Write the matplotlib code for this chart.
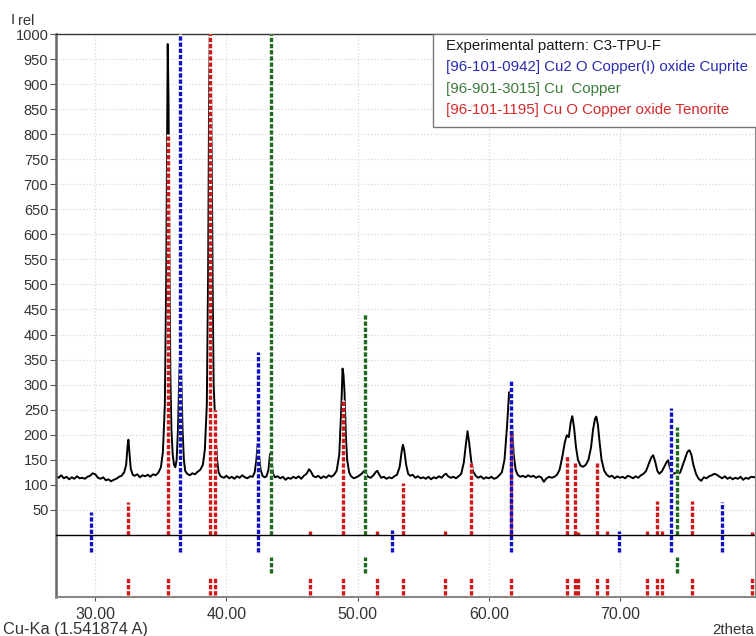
import matplotlib
matplotlib.use("Agg")
import matplotlib.pyplot as plt
from matplotlib.patches import Rectangle

plt.rcParams["font.family"] = ["Liberation Sans", "DejaVu Sans"]

# experimental pattern C3-TPU-F (2theta, counts)
exp_2theta = [
    27.0, 27.2, 27.4, 27.6, 27.8, 28.0, 28.2, 28.4, 28.6, 28.8, 29.0, 29.2, 29.4, 29.6, 29.8,
    30.0, 30.2, 30.4, 30.6, 30.8, 31.0, 31.2, 31.4, 31.6, 31.8, 32.0, 32.2, 32.35, 32.45, 32.52,
    32.6, 32.7, 32.85, 33.0, 33.2, 33.4, 33.6, 33.8, 34.0, 34.2, 34.4, 34.6, 34.8, 35.0, 35.15,
    35.3, 35.4, 35.47, 35.52, 35.58, 35.65, 35.72, 35.8, 35.9, 36.0, 36.1, 36.2, 36.3, 36.4, 36.48,
    36.56, 36.65, 36.75, 36.85, 37.0, 37.2, 37.4, 37.6, 37.8, 38.0, 38.2, 38.35, 38.5, 38.6, 38.68,
    38.73, 38.8, 38.88, 38.95, 39.02, 39.1, 39.18, 39.28, 39.4, 39.55, 39.8, 40.0, 40.2, 40.4, 40.6,
    40.8, 41.0, 41.2, 41.4, 41.6, 41.8, 42.0, 42.15, 42.28, 42.38, 42.48, 42.6, 42.75, 42.9, 43.05,
    43.2, 43.32, 43.42, 43.55, 43.7, 43.9, 44.1, 44.3, 44.5, 44.7, 44.9, 45.1, 45.3, 45.5, 45.7,
    45.9, 46.1, 46.3, 46.45, 46.6, 46.8, 47.0, 47.2, 47.4, 47.6, 47.8, 48.0, 48.2, 48.4, 48.6,
    48.75, 48.85, 48.92, 49.0, 49.1, 49.2, 49.35, 49.5, 49.7, 49.9, 50.1, 50.3, 50.5, 50.65, 50.8,
    51.0, 51.2, 51.4, 51.5, 51.65, 51.8, 52.0, 52.2, 52.4, 52.6, 52.8, 53.0, 53.2, 53.35, 53.45,
    53.55, 53.7, 53.85, 54.0, 54.2, 54.4, 54.6, 54.8, 55.0, 55.2, 55.4, 55.6, 55.8, 56.0, 56.2,
    56.4, 56.6, 56.75, 56.9, 57.1, 57.3, 57.5, 57.7, 57.9, 58.1, 58.25, 58.38, 58.5, 58.65, 58.8,
    59.0, 59.2, 59.4, 59.6, 59.8, 60.0, 60.2, 60.4, 60.6, 60.8, 61.0, 61.2, 61.4, 61.55, 61.65,
    61.78, 61.9, 62.05, 62.2, 62.4, 62.6, 62.8, 63.0, 63.2, 63.4, 63.6, 63.8, 64.0, 64.2, 64.4,
    64.6, 64.8, 65.0, 65.2, 65.4, 65.6, 65.8, 65.95, 66.1, 66.25, 66.37, 66.5, 66.65, 66.8, 67.0,
    67.2, 67.4, 67.6, 67.8, 67.95, 68.1, 68.2, 68.32, 68.45, 68.6, 68.8, 69.0, 69.2, 69.4, 69.6,
    69.8, 70.0, 70.2, 70.4, 70.6, 70.8, 71.0, 71.2, 71.4, 71.6, 71.8, 72.0, 72.2, 72.4, 72.54,
    72.7, 72.85, 73.0, 73.2, 73.4, 73.55, 73.68, 73.8, 73.95, 74.1, 74.25, 74.4, 74.6, 74.8, 75.0,
    75.15, 75.3, 75.45, 75.6, 75.8, 76.0, 76.2, 76.4, 76.6, 76.8, 77.0, 77.2, 77.4, 77.6, 77.8,
    78.0, 78.2, 78.4, 78.6, 78.8, 79.0, 79.2, 79.4, 79.6, 79.8, 80.0, 80.3,
]
exp_counts = [
    118, 114, 119, 113, 116, 111, 115, 112, 117, 113, 114, 112, 116, 118, 123,
    121, 114, 112, 115, 109, 111, 107, 110, 112, 116, 118, 125, 140, 175, 190,
    165, 132, 120, 118, 121, 115, 119, 117, 120, 116, 121, 119, 124, 135, 165,
    260, 500, 800, 980, 870, 560, 320, 210, 160, 140, 135, 150, 210, 320, 365,
    310, 210, 150, 128, 122, 119, 123, 121, 126, 130, 140, 170, 260, 520, 900,
    1010, 950, 740, 480, 300, 250, 200, 150, 125, 117, 114, 118, 113, 116, 112,
    117, 114, 119, 115, 113, 117, 116, 125, 150, 183, 160, 130, 118, 115, 117,
    130, 162, 150, 122, 115, 117, 113, 116, 110, 114, 112, 116, 113, 117, 112,
    118, 122, 131, 126, 118, 115, 118, 113, 117, 114, 119, 116, 120, 128, 160,
    250, 332, 320, 285, 200, 150, 125, 117, 113, 115, 118, 122, 128, 122, 116,
    114, 119, 126, 128, 120, 114, 116, 112, 115, 113, 117, 120, 135, 165, 180,
    170, 140, 122, 118, 120, 114, 117, 113, 115, 112, 116, 111, 115, 113, 117,
    114, 120, 122, 117, 114, 116, 113, 117, 122, 145, 180, 207, 185, 150, 127,
    118, 114, 117, 112, 115, 113, 116, 112, 114, 119, 125, 150, 220, 285, 280,
    220, 160, 130, 120, 116, 118, 115, 119, 116, 118, 114, 117, 115, 106, 113,
    116, 114, 116, 120, 130, 155, 185, 199, 195, 225, 237, 215, 175, 150, 138,
    136, 140, 150, 175, 210, 232, 236, 220, 185, 150, 128, 120, 116, 118, 113,
    117, 114, 116, 113, 118, 116, 113, 117, 114, 119, 122, 128, 142, 155, 159,
    145, 128, 122, 127, 137, 145, 149, 135, 125, 122, 124, 120, 125, 140, 155,
    166, 169, 160, 140, 122, 112, 108, 115, 113, 117, 119, 122, 120, 116, 113,
    117, 112, 115, 111, 114, 112, 116, 110, 114, 112, 116, 115,
]

# reference patterns (stick positions and relative intensities)
cuprite_pos = [29.64, 36.49, 42.39, 52.65, 61.68, 69.92, 73.89, 77.81]
cuprite_int = [46, 1000, 366, 10, 310, 7, 254, 65]

copper_pos = [43.36, 50.53, 74.33]
copper_int = [1000, 442, 216]

tenorite_pos = [32.52, 35.55, 38.73, 39.14, 46.35, 48.89, 51.49, 53.48, 56.70, 58.63,
                61.73, 65.95, 66.56, 66.81, 68.29, 69.02, 72.08, 72.80, 73.18, 75.47, 80.05]
tenorite_int = [66, 800, 1000, 250, 8, 270, 8, 104, 8, 143,
                210, 159, 143, 5, 143, 7, 7, 68, 7, 68, 5]

legend_lines = ["Experimental pattern: C3-TPU-F",
                "[96-101-0942] Cu2 O Copper(I) oxide Cuprite",
                "[96-901-3015] Cu  Copper",
                "[96-101-1195] Cu O Copper oxide Tenorite"]
legend_colors = ["#1a1a1a", "#2a2ab4", "#3b7a3b", "#d42a2a"]

BLUE, GREEN, RED = "#1010c8", "#1e6a1e", "#d01818"
DASH = (0, (1.3, 0.55))

W, H = 756, 636
fig = plt.figure(figsize=(W / 100, H / 100), dpi=100)
ax = fig.add_axes([56 / W, 1 - 597 / H, 699 / W, 563 / H])

ax.plot(exp_2theta, exp_counts, color="black", lw=1.4, zorder=2)


def sticks(pos, top, bottom, color):
    ax.vlines(pos, bottom, top, colors="white", lw=2.4, zorder=3)
    ax.vlines(pos, bottom, top, colors=color, lw=2.4, linestyles=DASH, zorder=4)


sticks(tenorite_pos, tenorite_int, 0, RED)
sticks(tenorite_pos, -86, -120, RED)
sticks(copper_pos, copper_int, 0, GREEN)
sticks(copper_pos, -44, -77, GREEN)
sticks(cuprite_pos, cuprite_int, -34, BLUE)

ax.axhline(0, color="black", lw=1.0, zorder=5)

ax.set_xlim(27.0, 80.3)
ax.set_ylim(-124, 1000)
ax.set_yticks(range(50, 1001, 50))
ax.set_xticks([30, 40, 50, 60, 70])
ax.set_xticklabels(["30.00", "40.00", "50.00", "60.00", "70.00"])
ax.tick_params(axis="both", labelcolor="#333333", color="#555555")
ax.tick_params(axis="y", length=4, pad=1.5, labelsize=10.5)
ax.tick_params(axis="x", length=3, pad=4, labelsize=11.5)
ax.grid(True, color="#d8d8d8", linestyle=":", lw=0.9, zorder=0)
ax.set_axisbelow(True)

ax.spines["left"].set_color("#666666")
ax.spines["left"].set_linewidth(1.8)
ax.spines["bottom"].set_color("#888888")
ax.spines["bottom"].set_linewidth(1.5)
ax.spines["top"].set_color("#333333")
ax.spines["top"].set_linewidth(1.0)
ax.spines["right"].set_color("#888888")

# legend box in the top right corner
ax.add_patch(Rectangle((0.539, 0.835), 0.47, 0.165, transform=ax.transAxes,
                       facecolor="white", edgecolor="#777777", lw=1.0,
                       zorder=6, clip_on=False))
for i, (txt, col) in enumerate(zip(legend_lines, legend_colors)):
    ax.text(0.558, 0.979 - i * 0.038, txt, color=col, fontsize=10.8,
            transform=ax.transAxes, va="center", ha="left", zorder=7)

fig.text(11 / W, 1 - 24 / H, "I", fontsize=11, color="#333333")
fig.text(18 / W, 1 - 25 / H, "rel", fontsize=10.5, color="#333333")
fig.text(3 / W, 1 - 634 / H, "Cu-Ka (1.541874 A)", fontsize=11.8, color="#333333")
fig.text(754 / W, 1 - 634 / H, "2theta", fontsize=10.8, color="#333333", ha="right")

fig.savefig("out.png", dpi=100)
